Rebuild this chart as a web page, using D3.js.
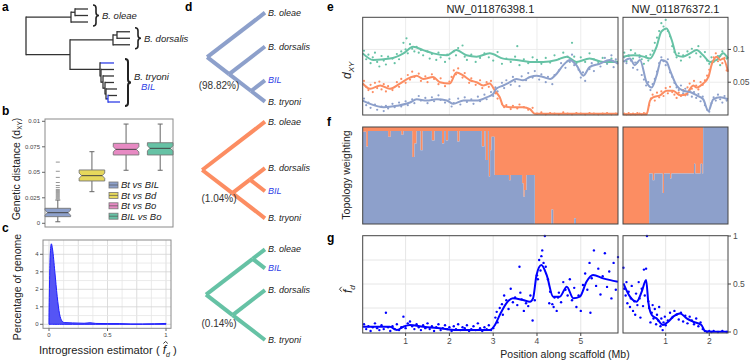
<!DOCTYPE html>
<html>
<head>
<meta charset="utf-8">
<script src="https://cdn.jsdelivr.net/npm/d3@7"></script>
<style>
body { margin: 0; background: #fff; }
svg { display: block; font-family: "Liberation Sans", Arial, sans-serif; }
</style>
</head>
<body>
<svg width="750" height="363"></svg>
<script>
// ---------------- data ----------------
// a: species tree (d = branch depth, t = tip rank, b = BIL lineage)
const treeA = {d: 0, c: [
  {d: 45, c: [{d: 49, c: [{t: 0, d: 62}, {t: 1, d: 62}]}, {t: 2, d: 62}]},
  {d: 44, c: [
    {d: 87, c: [{d: 91, c: [{t: 3.5, d: 104}, {t: 4.5, d: 104}]}, {t: 5.5, d: 104}]},
    {d: 74, c: [{t: 8.3, d: 88, b: 1}, {d: 75, c: [{t: 9.3, d: 88}, {d: 77, c: [{t: 10.3, d: 88},
      {d: 79, c: [{t: 11.3, d: 88}, {d: 80, c: [{t: 12.3, d: 91},
        {d: 82, b: 1, c: [{t: 13.3, d: 91}, {t: 14.3, d: 94, b: 1}]}]}]}]}]}]}
  ]}
]}
const cladeNames = ['B. oleae', 'B. dorsalis', 'B. tryoni']

// b: dXY box plots
const boxNames = ['Bt vs BIL', 'Bt vs Bd', 'Bt vs Bo', 'BIL vs Bo']
const boxLow = [0.0015, 0.031, 0.052, 0.052]
const boxQ1 = [0.0065, 0.0415, 0.067, 0.067]
const boxMed = [0.0104, 0.0467, 0.0725, 0.0735]
const boxQ3 = [0.0147, 0.0523, 0.0784, 0.079]
const boxHigh = [0.0228, 0.0702, 0.0973, 0.0973]
const btBilOutliers = [0.024, 0.025, 0.026, 0.027, 0.028, 0.029, 0.030, 0.031, 0.032, 0.033, 0.035, 0.037, 0.040, 0.045, 0.051, 0.060]
const bTicks = [0, 0.025, 0.05, 0.075, 0.1]
const bTickLabels = ['0', '0.025', '0.05', '0.075', '0.01']

// c: density of fd
const densX = [0, 0.01, 0.02, 0.03, 0.05, 0.07, 0.09, 0.11, 0.13, 0.2, 0.3, 0.35, 0.4, 0.5, 0.6, 0.7, 0.8, 0.9, 1.0]
const densY = [0.4, 3.9, 4.6, 4.3, 3.0, 1.6, 0.6, 0.2, 0.1, 0.08, 0.06, 0.09, 0.05, 0.04, 0.04, 0.02, 0.02, 0.03, 0.05]

// d: topologies (p = tip position within its tree)
const topoTrees = [
  {c: [{n: 'B. oleae', p: 0}, {c: [{n: 'B. dorsalis', p: 38}, {c: [{n: 'BIL', p: 76}, {n: 'B. tryoni', p: 100}]}]}]},
  {c: [{n: 'B. oleae', p: 0}, {c: [{c: [{n: 'B. dorsalis', p: 48}, {n: 'BIL', p: 72}]}, {n: 'B. tryoni', p: 100}]}]},
  {c: [{c: [{n: 'B. oleae', p: 0}, {n: 'BIL', p: 21}]}, {c: [{n: 'B. dorsalis', p: 45}, {n: 'B. tryoni', p: 100}]}]}
]
const topoPct = ['(98.82%)', '(1.04%)', '(0.14%)']

// e: dXY smoothed lines and window points, [Mb, dXY]
const dxyGreenL = [[0.02,.094],[0.26,.084],[0.64,.086],[0.95,.094],[1.17,.104],[1.4,.099],[1.63,.094],[1.94,.091],[2.16,.099],[2.39,.091],[2.62,.089],[2.92,.094],[3.23,.086],[3.53,.084],[3.84,.081],[4.14,.081],[4.45,.084],[4.68,.089],[4.9,.081],[5.2,.086],[5.51,.081],[5.85,.081]]
const dxyOrangeL = [[0.02,.048],[0.19,.040],[0.42,.045],[0.64,.040],[0.87,.048],[1.1,.057],[1.25,.060],[1.4,.055],[1.63,.058],[1.78,.050],[2.01,.048],[2.16,.065],[2.32,.060],[2.47,.053],[2.62,.050],[2.77,.045],[2.92,.048],[3.04,.037],[3.15,.027],[3.23,.014],[3.38,.012],[3.68,.012],[3.84,.009],[3.95,.002],[5.85,.002]]
const dxyBlueL = [[0.02,.022],[0.19,.017],[0.5,.012],[0.8,.014],[1.1,.019],[1.25,.024],[1.48,.022],[1.71,.024],[1.94,.022],[2.09,.017],[2.32,.022],[2.62,.022],[2.85,.027],[3.0,.032],[3.07,.040],[3.23,.045],[3.38,.050],[3.53,.055],[3.68,.053],[3.84,.058],[3.99,.060],[4.14,.058],[4.3,.055],[4.45,.063],[4.6,.076],[4.75,.084],[4.9,.076],[5.06,.060],[5.2,.073],[5.43,.078],[5.66,.084],[5.85,.078]]
const dxyGreenR = [[0.03,.089],[0.26,.091],[0.49,.089],[0.64,.086],[0.79,.104],[0.9,.127],[1.02,.132],[1.14,.114],[1.25,.091],[1.4,.089],[1.56,.094],[1.71,.099],[1.86,.091],[2.02,.081],[2.17,.084],[2.32,.094],[2.43,.086]]
const dxyOrangeR = [[0.03,.001],[0.56,.001],[0.64,.022],[0.71,.027],[0.87,.030],[1.02,.037],[1.17,.037],[1.33,.030],[1.48,.032],[1.56,.040],[1.63,.045],[1.71,.042],[1.86,.048],[1.98,.058],[2.06,.078],[2.17,.089],[2.25,.084],[2.32,.086],[2.43,.066]]
const dxyBlueR = [[0.03,.081],[0.18,.086],[0.29,.076],[0.41,.084],[0.56,.050],[0.68,.042],[0.79,.060],[0.9,.084],[1.02,.081],[1.1,.068],[1.25,.045],[1.4,.037],[1.56,.035],[1.71,.030],[1.86,.024],[1.98,.006],[2.09,.024],[2.25,.027],[2.43,.024]]

const ptsGreenL = [[0.05,.098],[0.1,.085],[0.15,.092],[0.2,.079],[0.25,.088],[0.3,.095],[0.35,.081],[0.4,.074],[0.45,.090],[0.5,.083],[0.55,.077],[0.6,.089],[0.7,.086],[0.75,.079],[0.8,.093],[0.85,.085],[0.9,.097],[0.95,.110],[1.0,.100],[1.02,.117],[1.05,.094],[1.1,.108],[1.15,.101],[1.2,.097],[1.25,.104],[1.3,.095],[1.35,.099],[1.4,.091],[1.5,.097],[1.55,.086],[1.6,.093],[1.7,.084],[1.75,.095],[1.8,.088],[1.9,.081],[1.95,.092],[2.0,.086],[2.1,.097],[2.15,.091],[2.2,.102],[2.3,.106],[2.35,.089],[2.4,.084],[2.5,.092],[2.6,.081],[2.7,.087],[2.8,.094],[2.9,.088],[3.0,.083],[3.1,.096],[3.2,.078],[3.3,.086],[3.4,.081],[3.5,.089],[3.55,.105],[3.6,.076],[3.7,.085],[3.8,.079],[3.9,.088],[4.0,.084],[4.1,.078],[4.2,.087],[4.3,.080],[4.4,.091],[4.5,.085],[4.6,.095],[4.7,.082],[4.8,.110],[4.85,.089],[4.9,.079],[5.0,.088],[5.1,.081],[5.2,.094],[5.3,.085],[5.4,.079],[5.5,.087],[5.6,.078],[5.7,.086],[5.8,.082]]
const ptsOrangeL = [[0.05,.052],[0.1,.043],[0.15,.038],[0.2,.046],[0.25,.035],[0.3,.049],[0.35,.041],[0.4,.051],[0.45,.039],[0.5,.047],[0.55,.036],[0.6,.044],[0.7,.038],[0.8,.050],[0.85,.043],[0.9,.055],[1.0,.049],[1.05,.061],[1.1,.054],[1.15,.066],[1.2,.058],[1.3,.063],[1.35,.052],[1.45,.059],[1.5,.050],[1.6,.062],[1.65,.055],[1.75,.047],[1.8,.056],[1.9,.044],[2.0,.051],[2.05,.058],[2.1,.068],[2.15,.062],[2.2,.071],[2.3,.057],[2.35,.064],[2.45,.049],[2.5,.056],[2.6,.046],[2.7,.053],[2.75,.041],[2.85,.050],[2.9,.043],[2.95,.052],[3.05,.033],[3.1,.025],[3.2,.017],[3.25,.012],[3.3,.015],[3.4,.009],[3.45,.014],[3.55,.010],[3.6,.016],[3.7,.012],[3.8,.008],[3.9,.011],[4.0,.002],[4.1,.004],[4.2,.001],[4.3,.003],[4.4,.002],[4.5,.001],[4.6,.004],[4.7,.002],[4.8,.001],[4.9,.003],[5.0,.002],[5.1,.001],[5.2,.003],[5.3,.002],[5.4,.001],[5.5,.002],[5.6,.003],[5.7,.001],[5.8,.002]]
const ptsBlueL = [[0.05,.025],[0.1,.015],[0.15,.019],[0.2,.011],[0.3,.016],[0.35,.008],[0.45,.013],[0.5,.006],[0.55,.014],[0.6,.010],[0.7,.017],[0.75,.012],[0.85,.019],[0.9,.013],[1.0,.021],[1.05,.015],[1.15,.024],[1.2,.018],[1.3,.029],[1.35,.022],[1.45,.026],[1.5,.018],[1.6,.027],[1.65,.021],[1.75,.030],[1.8,.023],[1.9,.019],[2.0,.024],[2.05,.013],[2.1,.018],[2.2,.025],[2.25,.016],[2.35,.027],[2.4,.020],[2.5,.024],[2.55,.017],[2.65,.028],[2.7,.021],[2.8,.031],[2.85,.024],[2.95,.035],[3.0,.029],[3.05,.042],[3.1,.036],[3.2,.049],[3.25,.041],[3.3,.053],[3.4,.046],[3.45,.058],[3.5,.051],[3.6,.044],[3.65,.059],[3.75,.053],[3.8,.064],[3.9,.057],[3.95,.067],[4.05,.054],[4.1,.062],[4.2,.050],[4.25,.058],[4.35,.047],[4.4,.061],[4.5,.068],[4.55,.079],[4.65,.072],[4.7,.089],[4.75,.081],[4.8,.092],[4.85,.076],[4.95,.069],[5.0,.057],[5.05,.065],[5.1,.052],[5.2,.070],[5.25,.079],[5.3,.067],[5.4,.082],[5.45,.074],[5.55,.087],[5.6,.079],[5.7,.091],[5.75,.073],[5.8,.085]]
const ptsGreenR = [[0.05,.095],[0.1,.082],[0.15,.090],[0.2,.099],[0.25,.086],[0.3,.094],[0.35,.080],[0.4,.091],[0.45,.085],[0.5,.078],[0.55,.090],[0.6,.083],[0.65,.092],[0.7,.098],[0.75,.110],[0.8,.118],[0.85,.128],[0.9,.140],[0.95,.135],[1.0,.145],[1.05,.128],[1.1,.120],[1.15,.105],[1.2,.096],[1.25,.088],[1.3,.094],[1.35,.083],[1.4,.091],[1.5,.097],[1.55,.088],[1.6,.101],[1.7,.094],[1.75,.105],[1.8,.089],[1.9,.096],[1.95,.083],[2.0,.078],[2.05,.088],[2.1,.081],[2.2,.090],[2.25,.076],[2.3,.097],[2.4,.086]]
const ptsOrangeR = [[0.05,.002],[0.1,.001],[0.15,.003],[0.2,.001],[0.25,.002],[0.3,.001],[0.35,.003],[0.4,.002],[0.45,.001],[0.5,.003],[0.55,.002],[0.62,.015],[0.66,.025],[0.7,.031],[0.75,.022],[0.8,.034],[0.85,.027],[0.9,.036],[0.95,.029],[1.0,.041],[1.05,.033],[1.1,.043],[1.15,.035],[1.2,.031],[1.25,.026],[1.3,.034],[1.35,.029],[1.4,.038],[1.45,.030],[1.5,.042],[1.55,.048],[1.6,.040],[1.65,.052],[1.7,.045],[1.75,.039],[1.8,.050],[1.85,.046],[1.9,.053],[1.95,.060],[2.0,.069],[2.05,.081],[2.1,.088],[2.15,.094],[2.2,.082],[2.25,.090],[2.3,.079],[2.35,.087],[2.4,.068]]
const ptsBlueR = [[0.05,.088],[0.1,.079],[0.15,.091],[0.2,.083],[0.25,.072],[0.3,.080],[0.35,.069],[0.4,.088],[0.45,.061],[0.5,.054],[0.55,.045],[0.6,.050],[0.65,.038],[0.7,.047],[0.75,.055],[0.8,.066],[0.85,.079],[0.9,.088],[0.95,.082],[1.0,.076],[1.05,.085],[1.1,.065],[1.15,.058],[1.2,.049],[1.25,.042],[1.3,.038],[1.35,.045],[1.4,.033],[1.45,.040],[1.5,.031],[1.55,.038],[1.6,.028],[1.65,.035],[1.7,.026],[1.75,.032],[1.8,.021],[1.85,.028],[1.9,.015],[1.95,.008],[2.0,.005],[2.05,.018],[2.1,.027],[2.15,.022],[2.2,.031],[2.25,.024],[2.3,.019],[2.35,.029],[2.4,.022]]

// f: topology weighting (weight of topology 1; the rest is topology 2)
const topoPosL = [0.02,0.10,0.14,0.60,0.66,0.90,0.95,1.15,1.20,1.25,1.34,1.39,1.60,1.66,1.83,1.88,1.92,1.97,2.18,2.23,2.74,2.80,2.83,2.88,2.90,2.93,2.96,3.03,3.36,3.40,3.66,3.69,3.72,3.76,3.95,4.33,4.37,4.85,4.89,5.85]
const topoBlueL = [.95,.80,.96,.90,.96,.92,.96,.69,.83,.96,.76,.96,.86,.96,.83,.96,.86,.96,.85,.96,.80,.96,.66,.96,.49,.76,.90,.505,.45,.505,.42,.28,.35,.505,0,.15,0,.06,0,0]
const topoPosR = [0.02,0.62,0.70,0.74,0.93,0.96,1.10,1.13,1.65,1.68,1.80,1.84,1.86,2.43]
const topoBlueR = [0,.52,.45,.52,.32,.52,.47,.52,.62,.52,.62,.52,1,1]

// g: fd smoothed line and window points, [Mb, fd]
const fdLineL = [[0.02,.055],[0.64,.055],[0.8,.021],[0.95,.055],[1.1,.073],[1.4,.055],[1.78,.038],[2.16,.021],[2.54,.021],[2.92,.021],[3.04,.073],[3.15,.177],[3.3,.299],[3.45,.351],[3.68,.333],[3.84,.316],[3.91,.351],[3.99,.594],[4.1,.698],[4.22,.594],[4.37,.368],[4.52,.368],[4.68,.472],[4.83,.351],[4.98,.368],[5.13,.524],[5.28,.594],[5.51,.559],[5.85,.524]]
const fdLineR = [[0.03,.507],[0.18,.368],[0.33,.316],[0.45,.42],[0.55,.542],[0.6,.316],[0.68,.177],[0.79,.142],[0.94,.073],[1.06,.107],[1.17,.16],[1.33,.194],[1.48,.142],[1.63,.107],[1.82,.073],[1.9,.01],[2.02,.003],[2.43,.003]]
const fdPtsL = [[0.05,.08],[0.1,.03],[0.15,.06],[0.2,.01],[0.25,.05],[0.3,.09],[0.35,.04],[0.4,.02],[0.45,.07],[0.5,.03],[0.55,.20],[0.6,.05],[0.65,.01],[0.7,.06],[0.75,.03],[0.8,.08],[0.85,.02],[0.9,.05],[0.95,.16],[1.0,.04],[1.05,.09],[1.1,.11],[1.15,.06],[1.2,.03],[1.25,.08],[1.3,.05],[1.35,.02],[1.4,.07],[1.45,.04],[1.5,.09],[1.55,.03],[1.6,.06],[1.65,.01],[1.7,.05],[1.75,.08],[1.8,.02],[1.85,.04],[1.9,.07],[1.95,.03],[2.0,.05],[2.05,.01],[2.1,.06],[2.15,.03],[2.2,.08],[2.25,.02],[2.3,.05],[2.35,.04],[2.4,.07],[2.45,.01],[2.5,.03],[2.55,.06],[2.6,.02],[2.65,.09],[2.7,.04],[2.75,.01],[2.8,.05],[2.85,.03],[2.9,.07],[2.95,.02],[3.0,.04],[3.05,.15],[3.08,.21],[3.1,.10],[3.15,.25],[3.2,.29],[3.22,.18],[3.25,.38],[3.3,.33],[3.35,.24],[3.4,.45],[3.45,.31],[3.5,.36],[3.55,.28],[3.6,.68],[3.62,.41],[3.65,.34],[3.7,.22],[3.75,.30],[3.8,.27],[3.85,.38],[3.9,.12],[3.95,.33],[4.0,.59],[4.02,.55],[4.05,.75],[4.08,.64],[4.1,.79],[4.12,.85],[4.15,.72],[4.18,1.0],[4.2,.68],[4.25,.55],[4.28,.30],[4.3,.42],[4.35,.29],[4.38,.26],[4.4,.36],[4.45,.22],[4.48,.36],[4.5,.41],[4.55,.31],[4.6,.52],[4.65,.44],[4.7,.38],[4.75,.55],[4.8,.33],[4.85,.46],[4.9,.26],[4.95,.38],[5.0,.22],[5.05,.49],[5.1,.61],[5.15,.44],[5.2,.72],[5.22,.20],[5.25,.56],[5.3,.85],[5.35,.48],[5.4,.66],[5.45,.39],[5.5,.58],[5.55,.82],[5.6,.47],[5.65,.63],[5.7,.35],[5.75,.72],[5.8,.44],[5.85,.78]]
const fdPtsR = [[0.03,.67],[0.05,.45],[0.08,.38],[0.1,.52],[0.12,.30],[0.15,.42],[0.18,.26],[0.2,.35],[0.22,.48],[0.25,.22],[0.28,.32],[0.3,.18],[0.32,.40],[0.35,.28],[0.38,.52],[0.4,.35],[0.42,.15],[0.45,.45],[0.48,.27],[0.5,.65],[0.52,.38],[0.55,.66],[0.57,1.0],[0.6,.32],[0.62,.25],[0.65,.10],[0.68,.20],[0.7,.28],[0.72,.14],[0.75,.24],[0.78,.08],[0.8,.18],[0.83,.12],[0.85,.26],[0.88,.06],[0.9,.14],[0.93,.02],[0.95,.10],[0.98,.16],[1.0,.07],[1.05,.12],[1.1,.20],[1.15,.15],[1.2,.22],[1.25,.18],[1.3,.13],[1.35,.20],[1.4,.11],[1.45,.17],[1.5,.09],[1.55,.16],[1.6,.12],[1.65,.08],[1.7,.14],[1.75,.06],[1.8,.10],[1.85,.03],[1.9,.01],[1.95,0],[2.0,.01],[2.05,0],[2.1,.01],[2.2,0],[2.3,.01],[2.4,0]]

const scaffolds = ['NW_011876398.1', 'NW_011876372.1']
const mbTicksL = [1, 2, 3, 4, 5]
const mbTicksR = [1, 2]

// ---------------- drawing ----------------
const BLUE = '#8da0cb', ORANGE = '#fc8d62', GREEN = '#66c2a5'
const svg = d3.select('svg')

function letter(t, x, y) {
  svg.append('text').attr('x', x).attr('y', y).attr('font-size', 12).attr('font-weight', 'bold').text(t)
}
letter('a', 2, 11); letter('b', 2, 115); letter('c', 2, 232)
letter('d', 185, 11); letter('e', 327, 11); letter('f', 327, 126); letter('g', 327, 242)

// small hat drawn as a path (over f of f-hat)
function hat(parent, cx, cy, w) {
  parent.append('path').attr('d', `M${cx - w},${cy + w * 0.9} L${cx},${cy} L${cx + w},${cy + w * 0.9}`)
    .attr('fill', 'none').attr('stroke', '#222').attr('stroke-width', 0.9)
}

// ----- a -----
const rootA = d3.hierarchy(treeA, d => d.c)
const xA = d3.scaleLinear().domain([0, 104]).range([26, 130])
const yA = d3.scaleLinear().domain([0, 14.3]).range([9, 102])
rootA.eachAfter(n => {
  n.px = xA(n.data.d)
  n.py = n.children ? (n.children[0].py + n.children[n.children.length - 1].py) / 2 : yA(n.data.t)
})
const gA = svg.append('g')
gA.selectAll('.hz').data(rootA.descendants().filter(n => n.parent)).join('line').attr('class', 'hz')
  .attr('x1', n => n.parent.px).attr('x2', n => n.px).attr('y1', n => n.py).attr('y2', n => n.py)
  .attr('stroke', n => n.data.b ? '#2f3fe6' : '#333').attr('stroke-width', 1.3)
gA.selectAll('.vt').data(rootA.descendants().filter(n => n.children)).join('line').attr('class', 'vt')
  .attr('x1', n => n.px).attr('x2', n => n.px)
  .attr('y1', n => n.children[0].py - 0.65).attr('y2', n => n.children[n.children.length - 1].py + 0.65)
  .attr('stroke', n => n.data.b ? '#2f3fe6' : '#333').attr('stroke-width', 1.3)

function brace(x, y0, y1, w) {
  const m = (y0 + y1) / 2
  return `M${x},${y0} Q${x + w},${y0} ${x + w},${y0 + w} L${x + w},${m - w} Q${x + w},${m} ${x + 2 * w},${m}` +
    ` Q${x + w},${m} ${x + w},${m + w} L${x + w},${y1 - w} Q${x + w},${y1} ${x},${y1}`
}
const clades = [rootA.children[0], rootA.children[1].children[0], rootA.children[1].children[1]]
clades.forEach((c, i) => {
  const lv = c.leaves()
  const bx = d3.max(lv, l => l.px) + 5
  const y0 = d3.min(lv, l => l.py) - 4, y1 = d3.max(lv, l => l.py) + 4
  gA.append('path').attr('d', brace(bx, y0, y1, 3)).attr('fill', 'none').attr('stroke', '#222').attr('stroke-width', i === 2 ? 2 : 1.6)
  const ly = (y0 + y1) / 2 + (i === 2 ? -2 : 3.5)
  gA.append('text').attr('x', bx + 9).attr('y', ly).attr('font-size', 9.5).attr('font-style', 'italic').attr('fill', '#222').text(cladeNames[i])
  if (i === 2) gA.append('text').attr('x', bx + 16).attr('y', ly + 10).attr('font-size', 9.5).attr('font-style', 'italic').attr('fill', '#2f3fe6').text('BIL')
})

// ----- b -----
const xB = d3.scaleBand().domain(boxNames).range([45, 173]).paddingInner(0.25).paddingOuter(0)
const yB = d3.scaleLinear().domain([0, 0.1]).range([223.3, 121.3])
const boxColors = [BLUE, '#e6d85c', '#e78ac3', GREEN]
const gB = svg.append('g')
gB.append('rect').attr('x', 45).attr('y', 119).attr('width', 128).attr('height', 108).attr('fill', 'none').attr('stroke', '#8a8a8a')
gB.selectAll('.bt').data(bTicks).join('g').attr('class', 'bt').each(function (t, i) {
  const g = d3.select(this)
  g.append('line').attr('x1', 42).attr('x2', 45).attr('y1', yB(t)).attr('y2', yB(t)).attr('stroke', '#666')
  g.append('text').attr('x', 40).attr('y', yB(t) + 2).attr('text-anchor', 'end').attr('font-size', 6).attr('fill', '#444').text(bTickLabels[i])
})
boxNames.forEach((nm, i) => {
  const cx = xB(nm) + xB.bandwidth() / 2, x0 = xB(nm), x1 = x0 + xB.bandwidth()
  const q1 = yB(boxQ1[i]), q3 = yB(boxQ3[i]), md = yB(boxMed[i]), nd = 2.6, ni = 2.5
  gB.append('line').attr('x1', cx).attr('x2', cx).attr('y1', yB(boxLow[i])).attr('y2', yB(boxHigh[i])).attr('stroke', '#666')
  ;[boxLow[i], boxHigh[i]].forEach(v => gB.append('line').attr('x1', cx - 2.5).attr('x2', cx + 2.5).attr('y1', yB(v)).attr('y2', yB(v)).attr('stroke', '#666'))
  gB.append('path').attr('d', `M${x0},${q3} L${x1},${q3} L${x1},${md - nd} L${x1 - ni},${md} L${x1},${md + nd} L${x1},${q1} L${x0},${q1} L${x0},${md + nd} L${x0 + ni},${md} L${x0},${md - nd} Z`)
    .attr('fill', boxColors[i]).attr('stroke', '#777').attr('stroke-width', 0.9)
  gB.append('line').attr('x1', x0 + ni).attr('x2', x1 - ni).attr('y1', md).attr('y2', md).attr('stroke', '#444').attr('stroke-width', 1)
})
gB.selectAll('.out').data(btBilOutliers).join('line').attr('class', 'out')
  .attr('x1', xB(boxNames[0]) + xB.bandwidth() / 2 - 2).attr('x2', xB(boxNames[0]) + xB.bandwidth() / 2 + 2)
  .attr('y1', d => yB(d)).attr('y2', d => yB(d)).attr('stroke', '#888').attr('stroke-width', 0.9)
boxNames.forEach((nm, i) => {
  const ly = 185 + i * 10.4
  gB.append('rect').attr('x', 109).attr('y', ly - 3).attr('width', 9).attr('height', 6).attr('fill', boxColors[i]).attr('stroke', '#777').attr('stroke-width', 0.8)
  gB.append('line').attr('x1', 109).attr('x2', 118).attr('y1', ly).attr('y2', ly).attr('stroke', '#555').attr('stroke-width', 0.7)
  gB.append('text').attr('x', 121).attr('y', ly + 3.3).attr('font-size', 9.5).attr('font-style', 'italic').attr('fill', '#222').text(nm)
})
const bl = svg.append('text').attr('transform', 'translate(20,169) rotate(-90)').attr('text-anchor', 'middle').attr('font-size', 10.5).attr('fill', '#222')
bl.append('tspan').text('Genetic distance (d')
bl.append('tspan').attr('font-size', 6.5).attr('dy', 2).text('XY')
bl.append('tspan').attr('dy', -2).text(')')

// ----- c -----
const xC = d3.scaleLinear().domain([0, 1]).range([49, 166])
const yC = d3.scaleLinear().domain([0, 4]).range([324.3, 254.3])
const gC = svg.append('g')
d3.range(0, 1.0001, 0.125).forEach(v => gC.append('line').attr('x1', xC(v)).attr('x2', xC(v)).attr('y1', 240).attr('y2', 328.3)
  .attr('stroke', v * 4 % 1 === 0 ? '#d4d4d4' : '#e6e6e6').attr('stroke-width', 0.8))
d3.range(0, 4.6, 0.5).forEach(v => gC.append('line').attr('x1', 43).attr('x2', 171).attr('y1', yC(v)).attr('y2', yC(v))
  .attr('stroke', v % 1 === 0 ? '#d4d4d4' : '#e6e6e6').attr('stroke-width', 0.8))
const dens = densX.map((x, i) => [x, densY[i]])
gC.append('path').datum(dens).attr('d', d3.area().x(d => xC(d[0])).y0(yC(0)).y1(d => yC(d[1])).curve(d3.curveMonotoneX))
  .attr('fill', '#5555f5').attr('stroke', '#1f1fff').attr('stroke-width', 1)
gC.append('rect').attr('x', 43).attr('y', 240).attr('width', 128).attr('height', 88.3).attr('fill', 'none').attr('stroke', '#8a8a8a')
;[0, 1, 2, 3, 4].forEach(v => {
  gC.append('line').attr('x1', 40).attr('x2', 43).attr('y1', yC(v)).attr('y2', yC(v)).attr('stroke', '#666')
  gC.append('text').attr('x', 38.5).attr('y', yC(v) + 2).attr('text-anchor', 'end').attr('font-size', 6).attr('fill', '#444').text(v)
})
;[0, 0.5, 1].forEach(v => {
  gC.append('line').attr('x1', xC(v)).attr('x2', xC(v)).attr('y1', 328.3).attr('y2', 331).attr('stroke', '#666')
  gC.append('text').attr('x', xC(v)).attr('y', 336.5).attr('text-anchor', 'middle').attr('font-size', 6).attr('fill', '#444').text(v)
})
svg.append('text').attr('transform', 'translate(21,287) rotate(-90)').attr('text-anchor', 'middle').attr('font-size', 10.5).attr('fill', '#222').text('Percentage of genome')
const cl = svg.append('text').attr('x', 39).attr('y', 354).attr('font-size', 11.2).attr('fill', '#222')
const cPre = 'Introgression estimator ( '
cl.append('tspan').text(cPre)
cl.append('tspan').attr('font-style', 'italic').attr('font-size', 12).text('f')
cl.append('tspan').attr('font-style', 'italic').attr('font-size', 7).attr('dy', 2.5).text('d')
cl.append('tspan').attr('dy', -2.5).text(' )')
const fExt = cl.node().getExtentOfChar(cPre.length)
hat(svg, fExt.x + fExt.width / 2 + 1.2, 341.5, 2.2)

// ----- d -----
const dBands = [[12.7, 101.7], [121.7, 218.3], [249.3, 340]]
const dColors = [BLUE, ORANGE, GREEN]
const tipX = 265, slant = 1.3
topoTrees.forEach((tr, i) => {
  const yD = d3.scaleLinear().domain([0, 100]).range(dBands[i])
  const root = d3.hierarchy(tr, d => d.c)
  root.eachAfter(n => {
    const ys = n.leaves().map(l => yD(l.data.p))
    const lo = d3.min(ys), hi = d3.max(ys)
    n.py = (lo + hi) / 2
    n.px = tipX - (hi - lo) / 2 * slant
  })
  const g = svg.append('g')
  g.selectAll('line').data(root.links()).join('line')
    .attr('x1', l => l.source.px).attr('y1', l => l.source.py).attr('x2', l => l.target.px).attr('y2', l => l.target.py)
    .attr('stroke', dColors[i]).attr('stroke-width', 4)
  g.selectAll('text.tip').data(root.leaves()).join('text').attr('class', 'tip')
    .attr('x', l => l.px + 3).attr('y', l => l.py + 3).attr('font-size', 9).attr('font-style', 'italic')
    .attr('fill', l => l.data.n === 'BIL' ? '#2f3fe6' : '#222').text(l => l.data.n)
  g.append('text').attr('x', 219).attr('y', root.py + 32).attr('text-anchor', 'middle').attr('font-size', 10).attr('fill', '#333').text(topoPct[i])
})

// ----- e, f, g -----
const xPanels = [
  d3.scaleLinear().domain([0.02, 5.85]).range([362.7, 618]),
  d3.scaleLinear().domain([0.02, 2.43]).range([623, 728])
]
const yE = d3.scaleLinear().domain([0, 0.149]).range([115, 17.3])
const yF = d3.scaleLinear().domain([0, 1]).range([224, 127])
const yG = d3.scaleLinear().domain([0, 1]).range([332, 236])
const dxyLines = [[dxyGreenL, dxyOrangeL, dxyBlueL], [dxyGreenR, dxyOrangeR, dxyBlueR]]
const dxyPts = [[ptsGreenL, ptsOrangeL, ptsBlueL], [ptsGreenR, ptsOrangeR, ptsBlueR]]
const lineCols = [GREEN, ORANGE, BLUE]
const topoPos = [topoPosL, topoPosR], topoBlue = [topoBlueL, topoBlueR]
const fdLines = [fdLineL, fdLineR], fdPts = [fdPtsL, fdPtsR]
const mbTicks = [mbTicksL, mbTicksR]

xPanels.forEach((xs, p) => {
  const [x0, x1] = xs.range()
  // e
  const gE = svg.append('g')
  mbTicks[p].forEach(t => gE.append('line').attr('x1', xs(t)).attr('x2', xs(t)).attr('y1', 17.3).attr('y2', 115).attr('stroke', '#ececec'))
  ;[0.05, 0.1].forEach(t => gE.append('line').attr('x1', x0).attr('x2', x1).attr('y1', yE(t)).attr('y2', yE(t)).attr('stroke', '#ececec'))
  dxyPts[p].forEach((pts, k) => {
    gE.append('g').selectAll('circle').data(pts).join('circle')
      .attr('cx', d => xs(d[0])).attr('cy', d => yE(d[1])).attr('r', 1.1).attr('fill', lineCols[k])
  })
  dxyLines[p].forEach((ln, k) => {
    gE.append('path').datum(ln).attr('d', d3.line().x(d => xs(d[0])).y(d => yE(d[1])).curve(d3.curveMonotoneX))
      .attr('fill', 'none').attr('stroke', lineCols[k]).attr('stroke-width', 2)
  })
  gE.append('rect').attr('x', x0).attr('y', 17.3).attr('width', x1 - x0).attr('height', 97.7).attr('fill', 'none').attr('stroke', '#444')
  svg.append('text').attr('x', (x0 + x1) / 2).attr('y', 13.3).attr('text-anchor', 'middle').attr('font-size', 11).attr('fill', '#1a1a1a').text(scaffolds[p])

  // f
  const gF = svg.append('g')
  const tw = topoPos[p].map((x, i) => ({x, b: topoBlue[p][i]}))
  gF.append('path').datum(tw).attr('d', d3.area().x(d => xs(d.x)).y0(yF(1)).y1(d => yF(d.b)).curve(d3.curveStepAfter)).attr('fill', ORANGE)
  gF.append('path').datum(tw).attr('d', d3.area().x(d => xs(d.x)).y0(yF(0)).y1(d => yF(d.b)).curve(d3.curveStepAfter)).attr('fill', BLUE)
  gF.append('rect').attr('x', x0).attr('y', 127).attr('width', x1 - x0).attr('height', 97).attr('fill', 'none').attr('stroke', '#444')

  // g
  const gG = svg.append('g')
  mbTicks[p].forEach(t => gG.append('line').attr('x1', xs(t)).attr('x2', xs(t)).attr('y1', 235.7).attr('y2', 333).attr('stroke', '#e6e6e6'))
  ;[0.25, 0.5, 0.75].forEach(t => gG.append('line').attr('x1', x0).attr('x2', x1).attr('y1', yG(t)).attr('y2', yG(t)).attr('stroke', '#e6e6e6'))
  gG.append('g').selectAll('circle').data(fdPts[p]).join('circle')
    .attr('cx', d => xs(d[0])).attr('cy', d => yG(d[1])).attr('r', 1.2).attr('fill', '#0000ff')
  gG.append('path').datum(fdLines[p]).attr('d', d3.line().x(d => xs(d[0])).y(d => yG(d[1])).curve(d3.curveMonotoneX))
    .attr('fill', 'none').attr('stroke', '#0000ff').attr('stroke-width', 2)
  gG.append('rect').attr('x', x0).attr('y', 235.7).attr('width', x1 - x0).attr('height', 97.3).attr('fill', 'none').attr('stroke', '#444')
  mbTicks[p].forEach(t => {
    gG.append('line').attr('x1', xs(t)).attr('x2', xs(t)).attr('y1', 333).attr('y2', 336).attr('stroke', '#444')
    gG.append('text').attr('x', xs(t)).attr('y', 344).attr('text-anchor', 'middle').attr('font-size', 8.5).attr('fill', '#4d4d4d').text(t)
  })
})

// right axes
function rightAxis(ys, ticks, labels) {
  ticks.forEach((t, i) => {
    svg.append('line').attr('x1', 728).attr('x2', 731).attr('y1', ys(t)).attr('y2', ys(t)).attr('stroke', '#444')
    svg.append('text').attr('x', 733).attr('y', ys(t) + 3).attr('font-size', 8.5).attr('fill', '#4d4d4d').text(labels[i])
  })
}
rightAxis(yE, [0.05, 0.1], ['0.05', '0.1'])
rightAxis(yG, [0, 0.5, 1], ['0', '0.5', '1'])

// axis titles
const el = svg.append('text').attr('transform', 'translate(351,79) rotate(-90)').attr('font-size', 12).attr('font-style', 'italic').attr('fill', '#222')
el.append('tspan').text('d')
el.append('tspan').attr('font-size', 8).attr('dy', 3).text('XY')
svg.append('text').attr('transform', 'translate(350,175) rotate(-90)').attr('text-anchor', 'middle').attr('font-size', 10.5).attr('fill', '#222').text('Topology weighting')
const gl = svg.append('g').attr('transform', 'translate(352,293) rotate(-90)')
const glt = gl.append('text').attr('font-size', 12).attr('font-style', 'italic').attr('fill', '#222')
glt.append('tspan').text('f')
glt.append('tspan').attr('font-size', 8).attr('dy', 3).text('d')
hat(gl, 3.8, -12.5, 2.4)
svg.append('text').attr('x', 565).attr('y', 358).attr('text-anchor', 'middle').attr('font-size', 10.5).attr('fill', '#222').text('Position along scaffold (Mb)')
</script>
</body>
</html>
